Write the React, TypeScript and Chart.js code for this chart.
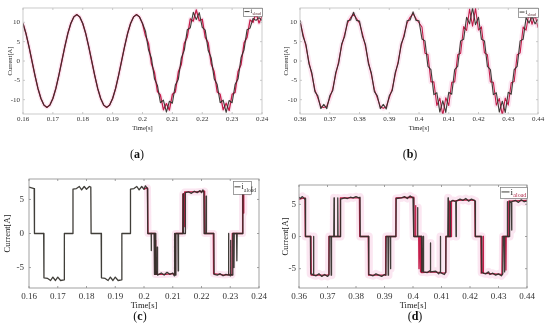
import React, { useEffect, useRef } from "react";
import { Chart, registerables } from "chart.js";
Chart.register(...registerables);

const SERIF = '"Liberation Serif", "DejaVu Serif", serif';

// ---------- tick labels ----------
const xTicksA = [0.16, 0.17, 0.18, 0.19, 0.2, 0.21, 0.22, 0.23, 0.24];
const xTicksB = [0.36, 0.37, 0.38, 0.39, 0.4, 0.41, 0.42, 0.43, 0.44];
const yTicksTop = [-10, -5, 0, 5, 10];
const yTicksBottom = [-5, 0, 5];

// ---------- (a) source current, sampled every 1 ms from 0.160 s ----------
const aStart = 0.16;
const aDark = [
  9.7, 7.1, 3.7, 0, -3.7, -7.1, -9.7, -11.4, -12, -11.4,
  -9.7, -7.1, -3.7, 0, 3.7, 7.1, 9.7, 11.4, 12, 11.4,
  9.7, 7.1, 3.7, 0, -3.7, -7.1, -9.7, -11.4, -12, -11.4,
  -9.7, -7.1, -3.7, 0, 3.7, 7.1, 9.7, 11.4, 12, 11.4,
  9.7,
  7.7, 2.9, 0.7, -4.6, -6.3, -10.8, -10.1, -13.2, -10.4, -10.9,
  -6.2, -4.7, 0.8, 2.8, 8.1, 8.6, 12.6, 10.7, 12.5, 8.7,
  8.0, 2.7, 0.8, -4.6, -6.1, -10.8, -10.1, -13.3, -10.2, -10.8,
  -6.1, -4.6, 0.9, 2.9, 8.1, 8.5, 11.0, 10.5, 11.2, 10.5,
];
const aRed = [
  9.7, 7.1, 3.7, 0, -3.7, -7.1, -9.7, -11.4, -12, -11.4,
  -9.7, -7.1, -3.7, 0, 3.7, 7.1, 9.7, 11.4, 12, 11.4,
  9.7, 7.1, 3.7, 0, -3.7, -7.1, -9.7, -11.4, -12, -11.4,
  -9.7, -7.1, -3.7, 0, 3.7, 7.1, 9.7, 11.4, 12, 11.4,
  9.7,
  6.5, 4.6, -0.8, -2.9, -7.9, -8.8, -12.6, -11.0, -12.7, -8.6,
  -8.0, -2.8, -0.9, 4.6, 6.2, 10.9, 10.3, 13.2, 10.4, 10.8,
  6.1, 4.7, -0.8, -2.8, -8.0, -8.6, -12.6, -10.9, -12.8, -8.6,
  -8.1, -2.7, -0.9, 4.7, 6.1, 10.6, 10.0, 12.4, 9.8, 11.5,
];

// ---------- (b) source current, sampled every 1 ms from 0.360 s ----------
const bStart = 0.36;
const bDark = [
  10.6, 6.4, 4.3, -0.7, -3.1, -7.9, -9.0, -12.3, -11.2, -12.3,
  -9.0, -7.7, -3.0, -0.6, 4.4, 6.3, 10.4, 10.6, 12.6, 10.5,
  10.3, 6.4, 4.3, -0.7, -3.1, -7.9, -9.0, -12.3, -11.2, -12.4,
  -9.0, -7.7, -3.0, -0.6, 4.4, 6.3, 10.4, 10.6, 12.7, 10.5,
  10.4,
  5.7, 5.2, -1.4, -2.2, -8.7, -8.2, -13.2, -10.3, -13.3, -8.1,
  -8.6, -2.2, -1.4, 5.2, 5.6, 11.3, 9.6, 13.7, 9.4, 11.3,
  5.6, 5.2, -1.4, -2.2, -8.7, -8.2, -13.2, -10.4, -13.3, -8.1,
  -8.6, -2.2, -1.4, 5.2, 5.6, 11.2, 9.8, 11.5, 9.6, 10.8,
];
const bRed = [
  10.2, 7.0, 3.8, -0.2, -3.6, -7.4, -9.6, -11.8, -12.0, -11.7,
  -9.6, -7.2, -3.5, -0.1, 3.9, 6.9, 9.8, 11.2, 12.1, 11.0,
  9.8, 7.0, 3.8, -0.2, -3.6, -7.4, -9.6, -11.8, -12.2, -11.8,
  -9.5, -7.2, -3.5, -0.1, 3.9, 6.9, 9.8, 11.3, 12.2, 11.0,
  9.9,
  8.8, 2.0, 1.7, -5.4, -5.4, -11.5, -9.6, -14.0, -9.5, -11.5,
  -5.5, -5.4, 1.6, 2.0, 8.9, 7.9, 13.4, 9.0, 13.6, 8.0,
  8.8, 2.1, 1.6, -5.4, -5.5, -11.4, -9.7, -14.0, -9.6, -11.4,
  -5.6, -5.3, 1.6, 2.1, 8.8, 8.0, 12.6, 9.5, 12.0, 8.6,
];

// ---------- (c) load current breakpoints [time, current] ----------
const cDarkPts = [
  [0.16, 6.8], [0.1618, 6.6], [0.1619, 0], [0.1651, 0], [0.1652, -6.5], [0.1665, -6.6], [0.1675, -6.9], [0.1683, -6.4], [0.1692, -6.9], [0.17, -6.4], [0.171, -6.9], [0.1722, -6.8], [0.1723, 0],
  [0.1752, 0], [0.1753, 6.5], [0.1765, 6.6], [0.1775, 6.9], [0.1783, 6.4], [0.1792, 6.9], [0.18, 6.5], [0.181, 6.9], [0.1815, 6.8], [0.1816, 0],
  [0.1851, 0], [0.1852, -6.5], [0.1865, -6.6], [0.1875, -6.9], [0.1883, -6.4], [0.1892, -6.9], [0.19, -6.4], [0.191, -6.9], [0.1922, -6.8], [0.1923, 0],
  [0.1952, 0], [0.1953, 6.5], [0.1965, 6.6], [0.1975, 6.9], [0.1983, 6.4], [0.1992, 6.9], [0.2, 6.5], [0.2005, 7.0], [0.2012, 6.6], [0.2013, 0],
  [0.2025, 0], [0.2025, -2.5], [0.2026, 0], [0.2035, 0], [0.2036, -6.0], [0.2037, 0], [0.204, 0], [0.2041, -6.0], [0.2045, -5.9], [0.2046, -2.0], [0.2047, -6.1], [0.206, -5.8], [0.207, -6.1], [0.208, -5.7], [0.209, -6.0], [0.21, -5.8], [0.2105, -6.2], [0.2106, 0], [0.2107, -6.0], [0.211, -6.1], [0.2111, 0],
  [0.2118, 0], [0.2119, -5.5], [0.212, 0], [0.2135, 0], [0.2136, 5.8], [0.2137, 0], [0.2143, 0], [0.2144, 6.0], [0.2155, 6.1], [0.2165, 5.9], [0.2175, 6.2], [0.2185, 6.0], [0.2195, 6.3], [0.22, 6.0], [0.2205, 6.4], [0.2208, 6.1], [0.2209, 0],
  [0.2215, 0], [0.2216, 5.5], [0.2217, 0], [0.2243, 0], [0.2244, -6.0], [0.2255, -6.1], [0.2265, -5.9], [0.2275, -6.2], [0.2285, -6.0], [0.2293, -6.1], [0.2294, 0], [0.2295, -6.0], [0.23, -6.2], [0.2301, -1.0], [0.2302, -6.0], [0.2308, -6.1], [0.2309, 0],
  [0.2312, 0], [0.2313, -5.0], [0.2314, 0], [0.2322, 0], [0.2323, -4.0], [0.2324, 0], [0.2343, 0], [0.2344, 6.0], [0.235, 6.3], [0.236, 6.0], [0.2372, 6.2], [0.2375, 6.9],
];
const cRedPts = [
  [0.2, 6.5], [0.2012, 6.7], [0.2014, 0], [0.2038, 0], [0.2039, -6.0], [0.204, -1.0], [0.2041, -6.0], [0.2043, -5.6], [0.2044, -6.0], [0.2075, -6.0], [0.21, -5.9], [0.2108, -6.0], [0.2109, 0],
  [0.2134, 0], [0.2135, 5.8], [0.214, 5.9], [0.2141, 1.0], [0.2142, 6.1], [0.218, 6.1], [0.221, 6.2], [0.2211, 0], [0.2241, 0], [0.2242, -5.9], [0.228, -6.1], [0.23, -6.0], [0.2306, -6.1], [0.2307, 0],
  [0.2342, 0], [0.2343, 6.1], [0.2346, 3.0], [0.2347, 6.2], [0.2372, 6.0],
];

// ---------- (d) load current breakpoints [time, current] ----------
const dDarkPts = [
  [0.36, 6.1], [0.3605, 5.9], [0.3612, 6.2], [0.362, 5.8], [0.3622, 5.9], [0.3623, 0], [0.364, 0], [0.3641, -5.8], [0.3648, -5.9], [0.365, -6.0], [0.3651, 0], [0.3652, -6.0],
  [0.366, -6.1], [0.367, -5.8], [0.368, -6.2], [0.369, -5.9], [0.37, -6.2], [0.3705, -6.0], [0.3706, 0], [0.3712, 0], [0.3713, -6.0], [0.3714, 0], [0.3722, 0], [0.3723, 6.0], [0.3724, 0], [0.3735, 0], [0.3736, 6.0], [0.3737, 0],
  [0.3745, 0], [0.3746, 5.8], [0.376, 6.0], [0.377, 5.9], [0.378, 6.1], [0.379, 6.0], [0.38, 6.2], [0.381, 6.0], [0.3814, 6.1], [0.3815, 0],
  [0.3844, 0], [0.3845, -5.9], [0.386, -6.1], [0.387, -5.8], [0.388, -6.0], [0.389, -6.2], [0.39, -5.9], [0.3905, -6.0], [0.3906, 0], [0.3912, 0], [0.3913, -6.0], [0.3914, 0], [0.392, 0], [0.3921, -5.0], [0.3922, 0],
  [0.394, 0], [0.3941, 5.9], [0.396, 6.0], [0.397, 6.2], [0.398, 5.9], [0.399, 6.3], [0.4, 6.0], [0.4002, 5.9], [0.4003, 0], [0.4015, 0], [0.4016, 4.5], [0.4017, 0],
  [0.403, 0], [0.4031, -5.5], [0.4035, -5.3], [0.4036, 0], [0.4037, -5.5], [0.405, -5.6], [0.406, -5.3], [0.4061, -1.0], [0.4062, -5.5], [0.408, -5.4], [0.409, -5.8], [0.4095, -5.5], [0.4096, 0], [0.4097, -5.6], [0.411, -5.9], [0.4115, -5.5], [0.4116, 0],
  [0.4122, 0], [0.4123, 6.0], [0.4124, 0], [0.413, 0], [0.4131, 5.4], [0.414, 5.6], [0.415, 5.4], [0.4151, 0], [0.4152, 5.5], [0.4165, 5.8], [0.4175, 5.6], [0.4185, 5.9], [0.4195, 5.5], [0.4205, 5.8], [0.4215, 5.6], [0.4218, 5.5], [0.4219, 0],
  [0.424, 0], [0.4241, -5.6], [0.4255, -5.8], [0.4265, -5.5], [0.427, -5.9], [0.428, -5.7], [0.429, -6.0], [0.43, -5.8], [0.431, -6.1], [0.4315, -5.8], [0.4316, 0], [0.432, 0], [0.4321, -5.5], [0.4322, 0],
  [0.433, 0], [0.4331, 5.4], [0.4332, 0], [0.4338, 0], [0.4339, 5.5], [0.4345, 5.2], [0.4346, 1.0], [0.4347, 5.4], [0.436, 5.6], [0.437, 5.3], [0.438, 5.7], [0.439, 5.4], [0.44, 5.5],
];
const dRedPts = [
  [0.36, 5.8], [0.3621, 6.0], [0.3622, 0], [0.3642, 0], [0.3643, -6.0], [0.37, -6.0], [0.3704, -5.9], [0.3705, 0], [0.3744, 0], [0.3745, 6.0], [0.3812, 6.0], [0.3813, 0],
  [0.3843, 0], [0.3844, -6.0], [0.3903, -6.0], [0.3904, 0], [0.3939, 0], [0.394, 6.0], [0.4, 6.1], [0.4003, 6.0], [0.4004, 0], [0.4008, 0], [0.4009, 4.8], [0.401, 0],
  [0.402, 0], [0.4021, -5.0], [0.4022, 0], [0.4025, 0], [0.4026, -5.5], [0.4027, 0], [0.4029, 0], [0.403, -5.6], [0.407, -5.5], [0.411, -5.7], [0.4114, -5.6], [0.4115, 0],
  [0.4126, 0], [0.4127, 5.5], [0.4128, 0], [0.4134, 0], [0.4135, 5.5], [0.418, 5.7], [0.4217, 5.6], [0.4218, 0], [0.4238, 0], [0.4239, -5.7], [0.4245, -5.5], [0.4246, 0], [0.4247, -5.7],
  [0.4312, -5.9], [0.4313, 0], [0.4325, 0], [0.4326, -5.2], [0.4327, 0], [0.4335, 0], [0.4336, 5.5], [0.44, 5.6],
];

// ---------- styles ----------
const DARK = "rgba(48,46,40,0.92)";
const RED = "#c41e4a";
const HALO = "rgba(238,140,190,0.22)";

const fromSamples = (start: number, vals: number[]) =>
  vals.map((v, i) => ({ x: +(start + i * 0.001).toFixed(4), y: v }));
const fromPairs = (pts: number[][]) => pts.map(([x, y]) => ({ x, y }));

const framePlugin = {
  id: "frame",
  afterDraw(chart: any, _a: any, opts: any) {
    const { ctx, chartArea } = chart;
    const { left, top, right, bottom } = chartArea;
    ctx.save();
    ctx.strokeStyle = opts.color;
    ctx.lineWidth = 0.8;
    ctx.strokeRect(left, top, right - left, bottom - top);
    const tl = opts.tick;
    ctx.beginPath();
    chart.scales.x.ticks.forEach((t: any) => {
      const px = chart.scales.x.getPixelForValue(t.value);
      ctx.moveTo(px, bottom); ctx.lineTo(px, bottom - tl);
      ctx.moveTo(px, top); ctx.lineTo(px, top + tl);
    });
    chart.scales.y.ticks.forEach((t: any) => {
      const py = chart.scales.y.getPixelForValue(t.value);
      ctx.moveTo(left, py); ctx.lineTo(left + tl, py);
      ctx.moveTo(right, py); ctx.lineTo(right - tl, py);
    });
    ctx.stroke();
    ctx.restore();
  },
};

const legendPlugin = {
  id: "miniLegend",
  afterDraw(chart: any, _a: any, o: any) {
    const { ctx } = chart;
    ctx.save();
    ctx.fillStyle = "#fff";
    ctx.fillRect(o.x, o.y, o.w, o.h);
    ctx.strokeStyle = "#777";
    ctx.lineWidth = 0.7;
    ctx.strokeRect(o.x + 0.5, o.y + 0.5, o.w, o.h);
    const my = o.y + o.h * 0.45;
    ctx.strokeStyle = DARK;
    ctx.lineWidth = 1;
    ctx.beginPath();
    ctx.moveTo(o.x + 1.5, my);
    ctx.lineTo(o.x + 1.5 + o.line, my);
    ctx.stroke();
    ctx.fillStyle = "#222";
    ctx.font = `${o.fs}px ${SERIF}`;
    ctx.textBaseline = "alphabetic";
    const tx = o.x + 2.5 + o.line;
    const base = my + o.fs * 0.3;
    ctx.fillText("i", tx, base);
    const iw = ctx.measureText("i").width;
    ctx.font = `${o.ss}px ${SERIF}`;
    ctx.fillStyle = o.subColor;
    ctx.fillText(o.sub, tx + iw + 0.3, base + o.ss * 0.45);
    ctx.restore();
  },
};

type Spec = {
  datasets: any[];
  xTicks: number[];
  yTicks: number[];
  yMin: number;
  yMax: number;
  yWidth: number;
  xHeight: number;
  padTop: number;
  padRight: number;
  tickFont: number;
  titleFont: number;
  xTickPad: number;
  yTickPad: number;
  xTitlePad: number;
  yTitlePad: number;
  frameColor: string;
  legend: any;
};

function makeConfig(s: Spec): any {
  const fmt = (v: any) => String(+(+v).toFixed(2));
  return {
    type: "line",
    data: { datasets: s.datasets },
    options: {
      responsive: false,
      animation: false,
      events: [],
      layout: { padding: { left: 0, top: s.padTop, right: s.padRight, bottom: 0 } },
      elements: { point: { radius: 0 }, line: { tension: 0 } },
      plugins: {
        legend: { display: false },
        tooltip: { enabled: false },
        frame: { color: s.frameColor, tick: 2 },
        miniLegend: s.legend,
      },
      scales: {
        x: {
          type: "linear",
          min: s.xTicks[0],
          max: s.xTicks[s.xTicks.length - 1],
          afterFit: (sc: any) => { sc.height = s.xHeight; },
          afterBuildTicks: (sc: any) => { sc.ticks = s.xTicks.map((v) => ({ value: v })); },
          grid: { display: false, drawTicks: false },
          border: { display: false },
          ticks: {
            font: { family: SERIF, size: s.tickFont },
            color: "#333",
            padding: s.xTickPad,
            maxRotation: 0,
            autoSkip: false,
            callback: fmt,
          },
          title: {
            display: true,
            text: "Time[s]",
            font: { family: SERIF, size: s.titleFont },
            color: "#222",
            padding: { top: 0, bottom: s.xTitlePad },
          },
        },
        y: {
          type: "linear",
          min: s.yMin,
          max: s.yMax,
          afterFit: (sc: any) => { sc.width = s.yWidth; },
          afterBuildTicks: (sc: any) => { sc.ticks = s.yTicks.map((v) => ({ value: v })); },
          grid: { display: false, drawTicks: false },
          border: { display: false },
          ticks: {
            font: { family: SERIF, size: s.tickFont },
            color: "#333",
            padding: s.yTickPad,
            callback: fmt,
          },
          title: {
            display: true,
            text: "Current[A]",
            font: { family: SERIF, size: s.titleFont },
            color: "#222",
            padding: { top: s.yTitlePad, bottom: 0 },
          },
        },
      },
    },
    plugins: [framePlugin, legendPlugin],
  };
}

function lineSet(data: any[], color: string, width: number, order: number) {
  return {
    data,
    borderColor: color,
    borderWidth: width,
    pointRadius: 0,
    fill: false,
    order,
    borderJoinStyle: "round",
  };
}

function Panel(props: { left: number; top: number; width: number; height: number; spec: () => Spec }) {
  const ref = useRef<HTMLCanvasElement>(null);
  useEffect(() => {
    const chart = new Chart(ref.current as HTMLCanvasElement, makeConfig(props.spec()));
    return () => chart.destroy();
  }, []);
  return (
    <canvas
      ref={ref}
      width={props.width}
      height={props.height}
      style={{ position: "absolute", left: props.left, top: props.top, width: props.width, height: props.height }}
    />
  );
}

const topCommon = {
  yTicks: yTicksTop,
  yMin: -13.7,
  yMax: 13.7,
  xHeight: 26,
  padTop: 8,
  tickFont: 7,
  titleFont: 6.5,
  xTickPad: 1,
  yTickPad: 3,
  xTitlePad: 8,
  frameColor: "#bdbdbd",
};
const botCommon = {
  yTicks: yTicksBottom,
  yMin: -8,
  yMax: 8,
  xHeight: 47,
  tickFont: 9,
  titleFont: 8.5,
  xTickPad: 3,
  xTitlePad: 24,
  frameColor: "#8a8a8a",
};

const specA = (): Spec => ({
  ...topCommon,
  datasets: [
    lineSet(fromSamples(aStart, aDark), DARK, 1.1, 0),
    lineSet(fromSamples(aStart, aRed), RED, 1.3, 1),
    lineSet(fromSamples(aStart, aRed), HALO, 4, 2),
  ],
  xTicks: xTicksA,
  yWidth: 23,
  padRight: 13,
  yTitlePad: 6,
  legend: { x: 243, y: 8, w: 19, h: 8, line: 5, fs: 6, ss: 4, sub: "sload", subColor: "#5a2a32" },
});

const specB = (): Spec => ({
  ...topCommon,
  datasets: [
    lineSet(fromSamples(bStart, bDark), DARK, 1.1, 0),
    lineSet(fromSamples(bStart, bRed), RED, 1.1, 1),
    lineSet(fromSamples(bStart, bRed), HALO, 5, 2),
  ],
  xTicks: xTicksB,
  yWidth: 25,
  padRight: 12,
  yTitlePad: 7,
  legend: { x: 243, y: 8, w: 20, h: 9, line: 5, fs: 6, ss: 4, sub: "sload", subColor: "#5a2a32" },
});

const specC = (): Spec => ({
  ...botCommon,
  datasets: [
    lineSet(fromPairs(cDarkPts), DARK, 1.3, 0),
    lineSet(fromPairs(cRedPts), RED, 1.3, 1),
    lineSet(fromPairs(cRedPts), HALO, 7, 2),
  ],
  xTicks: xTicksA,
  yWidth: 29,
  padTop: 19,
  padRight: 16,
  yTickPad: 5,
  yTitlePad: 3,
  legend: { x: 233, y: 21, w: 18, h: 13, line: 6, fs: 8, ss: 5.5, sub: "aload", subColor: "#333" },
});

const specD = (): Spec => ({
  ...botCommon,
  datasets: [
    lineSet(fromPairs(dDarkPts), DARK, 1.3, 0),
    lineSet(fromPairs(dRedPts), RED, 1.3, 1),
    lineSet(fromPairs(dDarkPts), HALO, 8, 2),
  ],
  xTicks: xTicksB,
  yWidth: 24,
  padTop: 25,
  padRight: 23,
  yTickPad: 3,
  yTitlePad: 6,
  legend: { x: 225, y: 27, w: 27, h: 11, line: 8, fs: 9, ss: 6, sub: "aload", subColor: "#b02848" },
});

function Caption(props: { x: number; y: number; letter: string }) {
  return (
    <div
      style={{
        position: "absolute",
        left: props.x,
        top: props.y,
        transform: "translate(-50%, -50%)",
        fontFamily: SERIF,
        fontSize: 12,
        color: "#111",
        whiteSpace: "nowrap",
        lineHeight: 1,
      }}
    >
      (<b>{props.letter}</b>)
    </div>
  );
}

export default function App() {
  return (
    <div style={{ position: "absolute", left: 0, top: 0, width: 550, height: 335, background: "#fff", overflow: "hidden" }}>
      <Panel left={0} top={0} width={275} height={140} spec={specA} />
      <Panel left={275} top={0} width={275} height={140} spec={specB} />
      <Panel left={0} top={160} width={275} height={175} spec={specC} />
      <Panel left={275} top={160} width={275} height={175} spec={specD} />
      <Caption x={137} y={154} letter="a" />
      <Caption x={410} y={154} letter="b" />
      <Caption x={140} y={316} letter="c" />
      <Caption x={415} y={316} letter="d" />
    </div>
  );
}
